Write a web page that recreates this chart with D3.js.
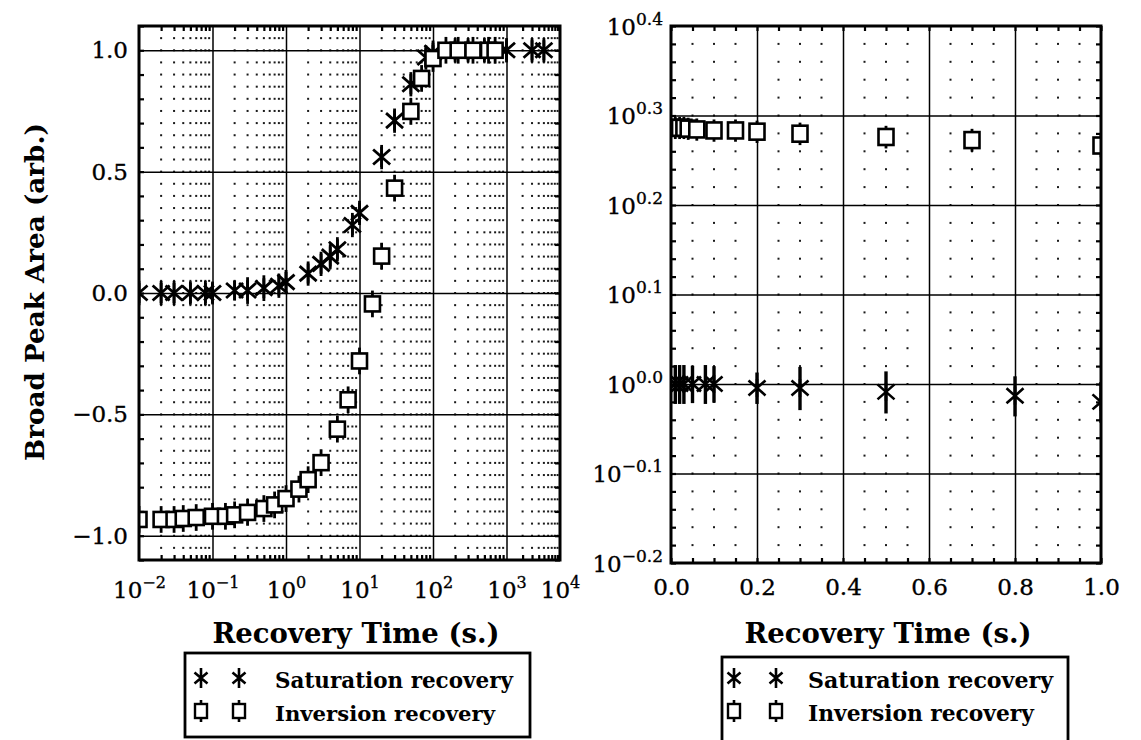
<!DOCTYPE html>
<html>
<head>
<meta charset="utf-8">
<script src="https://cdn.jsdelivr.net/npm/d3@7"></script>
<style>
  html, body { margin: 0; padding: 0; background: #fff; }
  svg { display: block; }
  text { font-family: "DejaVu Serif", "Liberation Serif", serif; fill: #000; }
  .tl { stroke: #000; stroke-width: 0.35px; }
</style>
</head>
<body>
<svg id="chart" width="1141" height="740"></svg>
<script>
// ---- Saturation recovery: time (s), broad peak area (arb.), error ----
const satTime = [0.01, 0.02, 0.03, 0.05, 0.08, 0.1, 0.2, 0.3, 0.5, 0.8, 1, 2, 3, 4, 5, 8, 10,
                 20, 30, 50, 80, 100, 200, 300, 500, 1000, 3000, 5000];
const satArea = [0, 0, 0, 0, 0, 0, 0.01, 0.01, 0.02, 0.03, 0.045, 0.08, 0.12, 0.15, 0.18, 0.28, 0.33,
                 0.56, 0.71, 0.86, 0.97, 0.99, 1.0, 1.0, 1.0, 1.0, 1.0, 1.0];
const satErr  = [0.05, 0.05, 0.05, 0.048, 0.05, 0.047, 0.04, 0.055, 0.053, 0.05, 0.05, 0.05, 0.05, 0.05, 0.05, 0.05, 0.05,
                 0.05, 0.05, 0.05, 0.05, 0.05, 0.05, 0.05, 0.05, 0.05, 0.05, 0.05];

// ---- Inversion recovery: time (s), broad peak area (arb.), error ----
const invTime = [0.01, 0.02, 0.03, 0.04, 0.06, 0.1, 0.15, 0.2, 0.3, 0.5, 0.7, 1, 1.5, 2, 3, 5, 7,
                 10, 15, 20, 30, 50, 70, 100, 150, 220, 350, 570, 700];
const invArea = [-0.933, -0.933, -0.933, -0.929, -0.925, -0.92, -0.92, -0.914, -0.904, -0.888, -0.873,
                 -0.847, -0.808, -0.769, -0.699, -0.561, -0.44, -0.28, -0.045, 0.152, 0.432, 0.748,
                 0.884, 0.966, 1.0, 1.0, 1.0, 1.0, 1.0];
const invErr  = [0.055, 0.055, 0.055, 0.055, 0.055, 0.055, 0.055, 0.055, 0.055, 0.055, 0.055,
                 0.055, 0.055, 0.055, 0.055, 0.055, 0.055, 0.055, 0.055, 0.055, 0.055, 0.055,
                 0.055, 0.055, 0.055, 0.055, 0.055, 0.055, 0.055];

// ---- Tick values and labels ----
const leftYTicks   = [-1, -0.5, 0, 0.5, 1];
const leftXTicks   = [1e-2, 1e-1, 1e0, 1e1, 1e2, 1e3, 1e4];
const leftXExp     = ["\u22122", "\u22121", "0", "1", "2", "3", "4"];
const rightXTicks  = [0, 0.2, 0.4, 0.6, 0.8, 1.0];
const rightYExp    = [0.4, 0.3, 0.2, 0.1, 0.0, -0.1, -0.2];
const rightYExpTxt = ["0.4", "0.3", "0.2", "0.1", "0.0", "\u22120.1", "\u22120.2"];

const seriesNames = ["Saturation recovery", "Inversion recovery"];
const xTitle = "Recovery Time (s.)";
const yTitle = "Broad Peak Area (arb.)";

// ---- Layout ----
const LP = { x0: 139, x1: 560, y0: 26, y1: 560 };
const RP = { x0: 671, x1: 1101, y0: 26, y1: 563 };

// the last decade of the log axis is drawn narrower than the others
const xL = d3.scaleLog().domain([1e-2, 1e3, 1e4]).range([LP.x0, 506.5, LP.x1]);
const yL = d3.scaleLinear().domain([-1.1, 1.1]).range([LP.y1, LP.y0]);
const xR = d3.scaleLinear().domain([0, 1]).range([RP.x0, RP.x1]);
const yR = d3.scaleLog().domain([Math.pow(10, -0.2), Math.pow(10, 0.4)]).range([RP.y1, RP.y0]);

const svg = d3.select("#chart");
const defs = svg.append("defs");
defs.append("clipPath").attr("id", "clipL").append("rect")
  .attr("x", LP.x0).attr("y", LP.y0).attr("width", LP.x1 - LP.x0).attr("height", LP.y1 - LP.y0);
defs.append("clipPath").attr("id", "clipR").append("rect")
  .attr("x", RP.x0).attr("y", RP.y0).attr("width", RP.x1 - RP.x0).attr("height", RP.y1 - RP.y0);

function fitWidth(sel, width) {
  sel.each(function () {
    const t = d3.select(this);
    const w = this.getComputedTextLength();
    const fs = parseFloat(t.attr("font-size"));
    t.attr("font-size", (fs * width / w).toFixed(2));
  });
}

// asterisk marker: vertical stroke plus an x
function starPath(cx, cy, r, dx, dy) {
  const p = d3.path();
  p.moveTo(cx, cy - r); p.lineTo(cx, cy + r);
  p.moveTo(cx - dx, cy - dy); p.lineTo(cx + dx, cy + dy);
  p.moveTo(cx - dx, cy + dy); p.lineTo(cx + dx, cy - dy);
  return p.toString();
}

function cleanAxis(g) { g.select(".domain").remove(); }

// ================= LEFT PANEL =================
const gL = svg.append("g");

// minor grid as dots at grid crossings
const lMinorX = [];
for (let d = -2; d < 4; d++) for (let m = 2; m < 10; m++) lMinorX.push(m * Math.pow(10, d));
const lRows = d3.range(-21, 22).map(i => +(i * 0.05).toFixed(2));
const lDots = [];
lMinorX.forEach(x => lRows.forEach(y => lDots.push([x, y])));
gL.append("g").selectAll("rect").data(lDots).join("rect")
  .attr("x", d => xL(d[0]) - 1).attr("y", d => yL(d[1]) - 1)
  .attr("width", 2).attr("height", 2).attr("fill", "#1a1a1a");

// major grid
gL.append("g").attr("transform", `translate(0,${LP.y1})`)
  .call(d3.axisBottom(xL).tickValues(leftXTicks.slice(1, -1)).tickSize(-(LP.y1 - LP.y0)).tickFormat(""))
  .call(cleanAxis)
  .selectAll("line").attr("stroke", "#000").attr("stroke-width", 1.5);
gL.append("g").attr("transform", `translate(${LP.x0},0)`)
  .call(d3.axisLeft(yL).tickValues(leftYTicks).tickSize(-(LP.x1 - LP.x0)).tickFormat(""))
  .call(cleanAxis)
  .selectAll("line").attr("stroke", "#000").attr("stroke-width", 1.5);

// inward minor ticks
const lTickY = d3.range(-11, 12).map(i => +(i * 0.1).toFixed(1));
[[d3.axisBottom, LP.y1], [d3.axisTop, LP.y0]].forEach(([ax, y]) => {
  gL.append("g").attr("transform", `translate(0,${y})`)
    .call(ax(xL).tickValues(lMinorX).tickSize(-5).tickFormat(""))
    .call(cleanAxis)
    .selectAll("line").attr("stroke", "#000").attr("stroke-width", 2.2);
});
[[d3.axisLeft, LP.x0], [d3.axisRight, LP.x1]].forEach(([ax, x]) => {
  gL.append("g").attr("transform", `translate(${x},0)`)
    .call(ax(yL).tickValues(lTickY).tickSize(-5).tickFormat(""))
    .call(cleanAxis)
    .selectAll("line").attr("stroke", "#000").attr("stroke-width", 2.2);
});

// data
const lData = gL.append("g").attr("clip-path", "url(#clipL)");
const satPts = satTime.map((t, i) => ({ t, v: satArea[i], e: satErr[i] }));
const invPts = invTime.map((t, i) => ({ t, v: invArea[i], e: invErr[i] }));

lData.append("g").selectAll("line").data(satPts).join("line")
  .attr("x1", d => xL(d.t)).attr("x2", d => xL(d.t))
  .attr("y1", d => yL(d.v - d.e)).attr("y2", d => yL(d.v + d.e))
  .attr("stroke", "#000").attr("stroke-width", 2.8);
lData.append("g").selectAll("path").data(satPts).join("path")
  .attr("d", d => starPath(xL(d.t), yL(d.v), 10, 8.5, 7.5))
  .attr("stroke", "#000").attr("stroke-width", 2.8).attr("fill", "none");

lData.append("g").selectAll("line").data(invPts).join("line")
  .attr("x1", d => xL(d.t)).attr("x2", d => xL(d.t))
  .attr("y1", d => yL(d.v - d.e)).attr("y2", d => yL(d.v + d.e))
  .attr("stroke", "#000").attr("stroke-width", 2.8);
lData.append("g").selectAll("rect").data(invPts).join("rect")
  .attr("x", d => xL(d.t) - 7.5).attr("y", d => yL(d.v) - 7.5)
  .attr("width", 15).attr("height", 15)
  .attr("fill", "#fff").attr("stroke", "#000").attr("stroke-width", 2.6);

// frame
gL.append("rect").attr("x", LP.x0).attr("y", LP.y0)
  .attr("width", LP.x1 - LP.x0).attr("height", LP.y1 - LP.y0)
  .attr("fill", "none").attr("stroke", "#000").attr("stroke-width", 3);

// tick labels
gL.append("g").attr("transform", `translate(${LP.x0},0)`)
  .call(d3.axisLeft(yL).tickValues(leftYTicks).tickSize(0).tickPadding(11).tickFormat(d3.format(".1f")))
  .call(cleanAxis)
  .selectAll("text").attr("class", "tl").attr("font-size", 23).attr("font-family", null);

const lxLab = gL.append("g").attr("transform", `translate(0,${LP.y1})`)
  .call(d3.axisBottom(xL).tickValues(leftXTicks).tickSize(0).tickFormat(""))
  .call(cleanAxis);
lxLab.selectAll(".tick text").each(function (d, i) {
  const t = d3.select(this).attr("class", "tl").attr("y", 38).attr("dy", null)
    .attr("font-size", 23).attr("font-family", null);
  t.text("10");
  t.append("tspan").attr("dy", -10).attr("font-size", 16).text(leftXExp[i]);
});

// ================= RIGHT PANEL =================
const gR = svg.append("g");

const rMinorX = d3.range(1, 20).filter(i => i % 4 !== 0).map(i => +(i * 0.05).toFixed(2));
const rRowsExp = d3.range(-10, 21).map(i => +(i * 0.02).toFixed(2));
const rDots = [];
rMinorX.forEach(x => rRowsExp.forEach(e => rDots.push([x, Math.pow(10, e)])));
gR.append("g").selectAll("rect").data(rDots).join("rect")
  .attr("x", d => xR(d[0]) - 1).attr("y", d => yR(d[1]) - 1)
  .attr("width", 2).attr("height", 2).attr("fill", "#1a1a1a");

const rYTickVals = rightYExp.map(e => Math.pow(10, e));
gR.append("g").attr("transform", `translate(0,${RP.y1})`)
  .call(d3.axisBottom(xR).tickValues(rightXTicks.slice(1, -1)).tickSize(-(RP.y1 - RP.y0)).tickFormat(""))
  .call(cleanAxis)
  .selectAll("line").attr("stroke", "#000").attr("stroke-width", 1.5);
gR.append("g").attr("transform", `translate(${RP.x0},0)`)
  .call(d3.axisLeft(yR).tickValues(rYTickVals.slice(1, -1)).tickSize(-(RP.x1 - RP.x0)).tickFormat(""))
  .call(cleanAxis)
  .selectAll("line").attr("stroke", "#000").attr("stroke-width", 1.5);

const rTickX = d3.range(0, 21).map(i => +(i * 0.05).toFixed(2));
const rTickY = rRowsExp.map(e => Math.pow(10, e));
[[d3.axisBottom, RP.y1], [d3.axisTop, RP.y0]].forEach(([ax, y]) => {
  gR.append("g").attr("transform", `translate(0,${y})`)
    .call(ax(xR).tickValues(rTickX).tickSize(-5).tickFormat(""))
    .call(cleanAxis)
    .selectAll("line").attr("stroke", "#000").attr("stroke-width", 2.2);
});
[[d3.axisLeft, RP.x0], [d3.axisRight, RP.x1]].forEach(([ax, x]) => {
  gR.append("g").attr("transform", `translate(${x},0)`)
    .call(ax(yR).tickValues(rTickY).tickSize(-5).tickFormat(""))
    .call(cleanAxis)
    .selectAll("line").attr("stroke", "#000").attr("stroke-width", 2.2);
});

// data: distance from equilibrium, 1 - area, for the first second
const rData = gR.append("g").attr("clip-path", "url(#clipR)");
const satR = satPts.filter(d => d.t <= 1).map(d => ({ t: d.t, v: 1 - d.v, e: d.e }));
const invR = invPts.filter(d => d.t <= 1).map(d => ({ t: d.t, v: 1 - d.v, e: d.e }));

rData.append("g").selectAll("line").data(satR).join("line")
  .attr("x1", d => xR(d.t)).attr("x2", d => xR(d.t))
  .attr("y1", d => yR(d.v - d.e)).attr("y2", d => yR(d.v + d.e))
  .attr("stroke", "#000").attr("stroke-width", 3.4);
rData.append("g").selectAll("path").data(satR).join("path")
  .attr("d", d => starPath(xR(d.t), yR(d.v), 9, 8.5, 7.5))
  .attr("stroke", "#000").attr("stroke-width", 2.6).attr("fill", "none");

rData.append("g").selectAll("line").data(invR).join("line")
  .attr("x1", d => xR(d.t)).attr("x2", d => xR(d.t))
  .attr("y1", d => yR(d.v - d.e)).attr("y2", d => yR(d.v + d.e))
  .attr("stroke", "#000").attr("stroke-width", 2.8);
rData.append("g").selectAll("rect").data(invR).join("rect")
  .attr("x", d => xR(d.t) - 7.5).attr("y", d => yR(d.v) - 8)
  .attr("width", 15).attr("height", 16)
  .attr("fill", "#fff").attr("stroke", "#000").attr("stroke-width", 2.6);

gR.append("rect").attr("x", RP.x0).attr("y", RP.y0)
  .attr("width", RP.x1 - RP.x0).attr("height", RP.y1 - RP.y0)
  .attr("fill", "none").attr("stroke", "#000").attr("stroke-width", 3);

gR.append("g").attr("transform", `translate(0,${RP.y1})`)
  .call(d3.axisBottom(xR).tickValues(rightXTicks).tickSize(0).tickFormat(d3.format(".1f")))
  .call(cleanAxis)
  .selectAll("text").attr("class", "tl").attr("y", 32).attr("dy", null)
  .attr("font-size", 23).attr("font-family", null);

const ryLab = gR.append("g").attr("transform", `translate(${RP.x0},0)`)
  .call(d3.axisLeft(yR).tickValues(rYTickVals).tickSize(0).tickPadding(8).tickFormat(""))
  .call(cleanAxis);
ryLab.selectAll(".tick text").each(function (d, i) {
  const t = d3.select(this).attr("class", "tl").attr("dy", 8).attr("font-size", 23).attr("font-family", null);
  t.text("10");
  t.append("tspan").attr("dy", -10).attr("font-size", 17).text(rightYExpTxt[i]);
});

// ================= TITLES =================
const titleL = svg.append("text").attr("x", 356).attr("y", 643).attr("text-anchor", "middle")
  .attr("font-weight", "bold").attr("font-size", 28).text(xTitle);
const titleR = svg.append("text").attr("x", 888).attr("y", 643).attr("text-anchor", "middle")
  .attr("font-weight", "bold").attr("font-size", 28).text(xTitle);
fitWidth(titleL, 287); fitWidth(titleR, 287);

const titleY = svg.append("text").attr("transform", "translate(44,292) rotate(-90)")
  .attr("text-anchor", "middle").attr("font-weight", "bold").attr("font-size", 27).text(yTitle);
fitWidth(titleY, 338);

// ================= LEGENDS =================
function legend(box, sx, rows, textX, textW) {
  const g = svg.append("g");
  g.append("rect").attr("x", box[0]).attr("y", box[1]).attr("width", box[2] - box[0]).attr("height", box[3] - box[1])
    .attr("fill", "#fff").attr("stroke", "#000").attr("stroke-width", 2.8);
  sx.forEach(x => {
    g.append("path").attr("d", starPath(x, rows[0], 10, 6.5, 5.5))
      .attr("stroke", "#000").attr("stroke-width", 2.6).attr("fill", "none");
    g.append("line").attr("x1", x).attr("x2", x).attr("y1", rows[1] - 11).attr("y2", rows[1] + 11)
      .attr("stroke", "#000").attr("stroke-width", 2.6);
    g.append("rect").attr("x", x - 6).attr("y", rows[1] - 7).attr("width", 12).attr("height", 14)
      .attr("fill", "#fff").attr("stroke", "#000").attr("stroke-width", 2.4);
  });
  seriesNames.forEach((name, i) => {
    const t = g.append("text").attr("x", textX).attr("y", rows[i] + 10)
      .attr("font-weight", "bold").attr("font-size", 22).text(name);
    fitWidth(t, textW[i]);
  });
}
legend([185, 653, 530, 737], [201, 239], [678, 711], 275, [238, 220]);
legend([722, 657, 1068, 744], [734, 776], [678, 711], 808, [245, 226]);
</script>
</body>
</html>
